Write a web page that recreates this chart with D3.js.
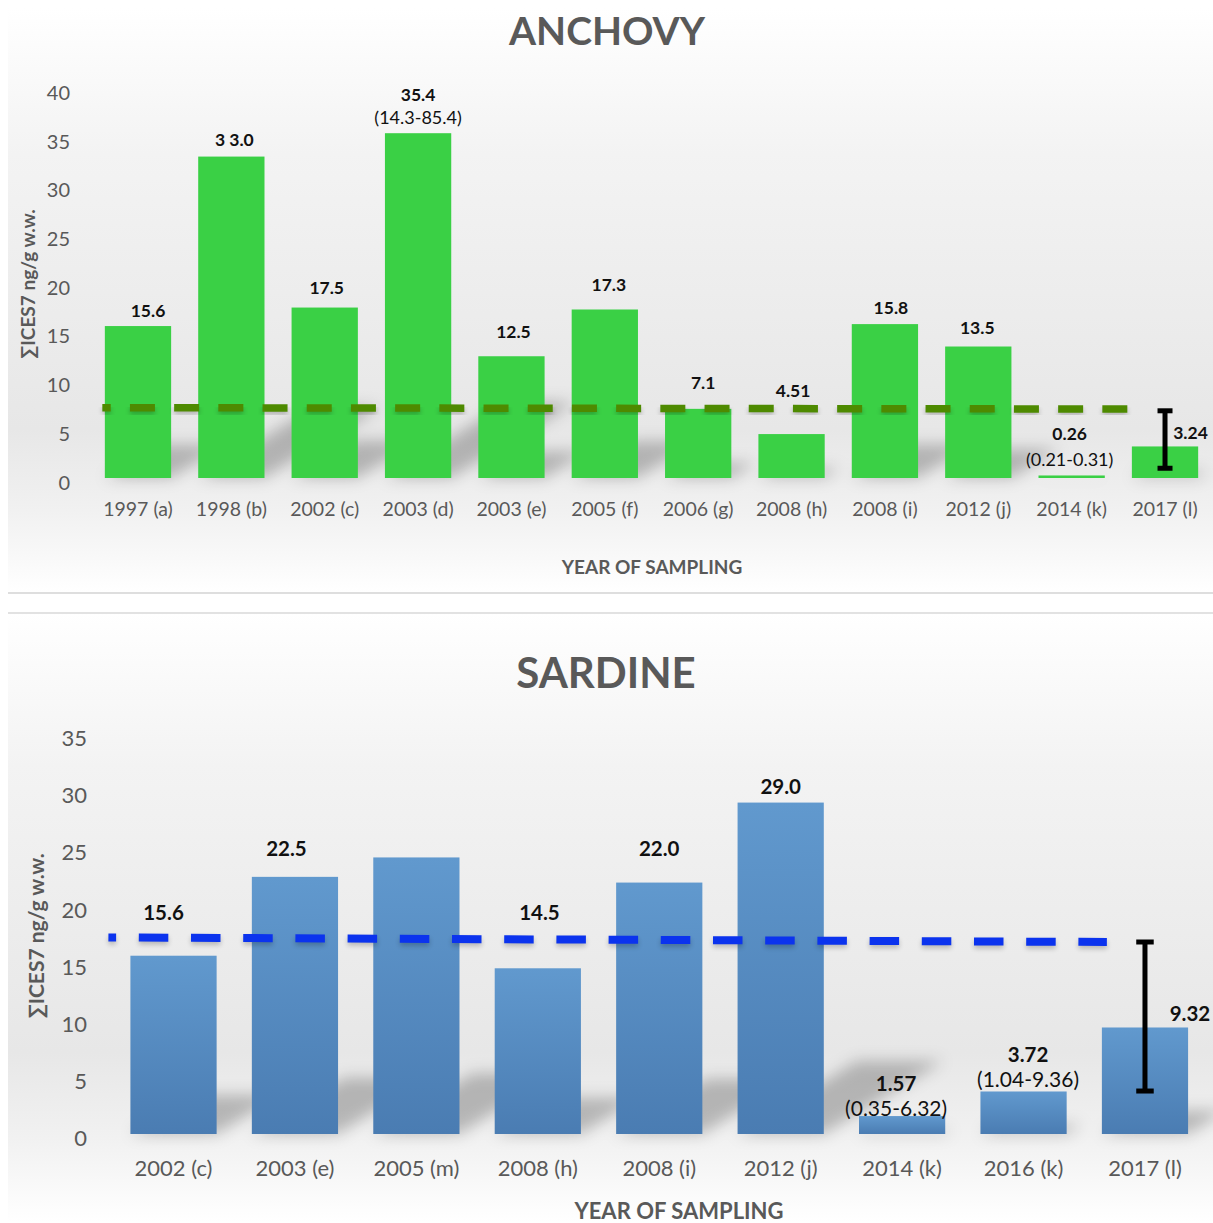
<!DOCTYPE html>
<html><head><meta charset="utf-8">
<script src="https://cdn.jsdelivr.net/npm/d3@7"></script>
<style>
html,body{margin:0;padding:0;background:#fff;}
svg{display:block;font-family:Lato,"Open Sans",sans-serif;}
</style></head><body>
<svg id="chart" width="1213" height="1223"></svg>
<script>
// ---------------- DATA ----------------
const anchovyCategories = ["1997 (a)","1998 (b)","2002 (c)","2003 (d)","2003 (e)","2005 (f)","2006 (g)","2008 (h)","2008 (i)","2012 (j)","2014 (k)","2017 (l)"];
const anchovyValues = [15.6, 33.0, 17.5, 35.4, 12.5, 17.3, 7.1, 4.51, 15.8, 13.5, 0.26, 3.24];
const anchovyLabels = ["15.6","3 3.0","17.5","35.4","12.5","17.3","7.1","4.51","15.8","13.5","0.26","3.24"];
const anchovyRanges = ["","","","(14.3-85.4)","","","","","","","(0.21-0.31)",""];
const anchovyReference = [7.22, 7.08];      // dashed line: value at start, value at end
const anchovyErrorBar = [1.0, 6.9];         // low, high for 2017 (l)
const anchovyYTicks = [0,5,10,15,20,25,30,35,40];

const sardineCategories = ["2002 (c)","2003 (e)","2005 (m)","2008 (h)","2008 (i)","2012 (j)","2014 (k)","2016 (k)","2017 (l)"];
const sardineValues = [15.6, 22.5, 24.2, 14.5, 22.0, 29.0, 1.57, 3.72, 9.32];
const sardineLabels = ["15.6","22.5","","14.5","22.0","29.0","1.57","3.72","9.32"];
const sardineRanges = ["","","","","","","(0.35-6.32)","(1.04-9.36)",""];
const sardineReference = [17.2, 16.8];
const sardineErrorBar = [3.76, 16.8];
const sardineYTicks = [0,5,10,15,20,25,30,35];

// ---------------- LAYOUT (pixels) ----------------
const anchovyLabelLift = [16,17,20.5,39,25,24.5,26,44,17,19.5,41.5,14.4];
const anchovyLabelDx   = [10,3,2,0,2,4,5,1.5,6,-1,-2,25.5];
const anchovyRangeLift = 16.5;
const sardineLabelLift = [44,29,0,56,34.5,16.6,33,37.5,14.5];
const sardineLabelDx   = [-10,-8.5,0,1.6,0,0,-6,4.5,45];
const sardineRangeLift = [0,0,0,0,0,0,9,12.5,0];

const svg = d3.select("#chart");
const defs = svg.append("defs");

function addBg(id){
  const g = defs.append("linearGradient").attr("id",id).attr("x1",0).attr("y1",0).attr("x2",0).attr("y2",1);
  [[0,"#ffffff"],[0.25,"#f3f3f3"],[0.72,"#e7e7e7"],[0.86,"#f1f1f1"],[1,"#ffffff"]]
    .forEach(s=>g.append("stop").attr("offset",s[0]).attr("stop-color",s[1]));
}
addBg("bgGrad");
const bl = defs.append("linearGradient").attr("id","blueBar").attr("x1",0).attr("y1",0).attr("x2",0).attr("y2",1);
bl.append("stop").attr("offset",0).attr("stop-color","#6199ce");
bl.append("stop").attr("offset",1).attr("stop-color","#4a7cb2");
const f = defs.append("filter").attr("id","shadowBlur").attr("x","-50%").attr("y","-50%").attr("width","200%").attr("height","200%");
f.append("feGaussianBlur").attr("stdDeviation",7.5);
const f2 = defs.append("filter").attr("id","lineBlur").attr("x","-10%").attr("y","-200%").attr("width","120%").attr("height","500%");
f2.append("feGaussianBlur").attr("stdDeviation",2.5);

// Panel backgrounds
svg.append("rect").attr("x",8).attr("y",8).attr("width",1205).attr("height",585).attr("fill","url(#bgGrad)");
svg.append("rect").attr("x",8).attr("y",592).attr("width",1205).attr("height",2).attr("fill","#dedede");
svg.append("rect").attr("x",8).attr("y",613).attr("width",1205).attr("height",610).attr("fill","url(#bgGrad)");
svg.append("rect").attr("x",8).attr("y",612).attr("width",1205).attr("height",2).attr("fill","#e2e2e2");

function drawChart(c){
  const g = svg.append("g");
  const x = d3.scaleBand().domain(c.categories).range(c.xRange).paddingInner(c.pad).paddingOuter(c.pad/2);
  const y = d3.scaleLinear().domain(c.yDomain).range(c.yRange);
  const base = y(0);
  const bw = x.bandwidth();

  // title
  g.append("text").attr("x",c.titleX).attr("y",c.titleY).attr("text-anchor","middle")
    .attr("font-size",c.titleSize).attr("font-weight",700).attr("fill","#595959").text(c.title);

  // y axis
  const ya = g.append("g").attr("transform",`translate(${c.yAxisX},0)`)
    .call(d3.axisLeft(y).tickValues(c.yTicks).tickSize(0).tickPadding(0));
  ya.select(".domain").remove();
  ya.selectAll("text").attr("y",4).attr("dy","0.35em").attr("fill","#595959")
    .attr("font-size",c.tickSize).attr("font-family","Lato, 'Open Sans', sans-serif");

  // y title
  g.append("text").attr("transform",`translate(${c.yTitle[0]},${c.yTitle[1]}) rotate(-90)`)
    .attr("text-anchor","middle").attr("dominant-baseline","central")
    .attr("font-size",c.yTitleSize).attr("font-weight",700).attr("fill","#595959").text("∑ICES7 ng/g w.w.");

  // shadows
  g.append("g").attr("filter","url(#shadowBlur)").selectAll("path").data(c.values).join("path")
    .attr("d",(d,i)=>{
      const x0 = x(c.categories[i]), x1 = x0+bw, h = base - y(d);
      const dx = 0.36*h, dy = 0.22*h;
      return `M${x0},${base}L${x1},${base}L${x1+dx},${base-dy}L${x0+dx},${base-dy}Z`;
    }).attr("fill","#000").attr("opacity",0.24);

  // bars
  g.append("g").selectAll("rect").data(c.values).join("rect")
    .attr("x",(d,i)=>x(c.categories[i])).attr("width",bw)
    .attr("y",d=>y(d)).attr("height",d=>Math.max(base-y(d),2))
    .attr("fill",c.fill);

  // x axis
  const xa = g.append("g").attr("transform",`translate(0,${base})`)
    .call(d3.axisBottom(x).tickSize(0).tickPadding(0));
  xa.select(".domain").remove();
  xa.selectAll("text").attr("y",c.xLabelDy).attr("dy","0.35em").attr("fill","#595959")
    .attr("font-size",c.xTickSize).attr("font-family","Lato, 'Open Sans', sans-serif");

  // x title
  g.append("text").attr("x",c.xTitle[0]).attr("y",c.xTitle[1]).attr("text-anchor","middle")
    .attr("dominant-baseline","central").attr("font-size",c.xTitleSize).attr("font-weight",700)
    .attr("fill","#595959").text("YEAR OF SAMPLING");

  // reference dashed line
  const n = c.categories.length;
  const rx0 = x(c.categories[0]) + c.refStartOffset;
  const rx1 = x(c.categories[n-1]) + c.refEndOffset;
  const line = d3.line();
  const pts = [[rx0, y(c.reference[0])],[rx1, y(c.reference[1])]];
  g.append("path").attr("d",line(pts.map(p=>[p[0],p[1]+3]))).attr("stroke","#000").attr("opacity",0.22)
    .attr("stroke-width",c.refWidth).attr("stroke-dasharray",c.dash).attr("stroke-dashoffset",c.dashOffset)
    .attr("filter","url(#lineBlur)").attr("fill","none");
  g.append("path").attr("d",line(pts)).attr("stroke",c.refColor).attr("stroke-width",c.refWidth)
    .attr("stroke-dasharray",c.dash).attr("stroke-dashoffset",c.dashOffset).attr("fill","none");

  // error bar on last category
  const ex = x(c.categories[n-1]) + bw/2;
  const eg = g.append("g").attr("stroke","#000").attr("stroke-width",5);
  eg.append("line").attr("x1",ex).attr("x2",ex).attr("y1",y(c.error[1])).attr("y2",y(c.error[0]));
  [c.error[0],c.error[1]].forEach(v=>{
    eg.append("line").attr("x1",ex-c.capW/2).attr("x2",ex+c.capW/2).attr("y1",y(v)).attr("y2",y(v));
  });

  // value labels
  g.append("g").selectAll("text").data(c.labels).join("text")
    .attr("x",(d,i)=>x(c.categories[i])+bw/2+c.labelDx[i])
    .attr("y",(d,i)=>y(c.values[i]) - c.labelLift[i])
    .attr("text-anchor","middle").attr("dominant-baseline","central")
    .attr("font-size",c.labelSize).attr("font-weight",700).attr("fill","#111").text(d=>d);
  g.append("g").selectAll("text").data(c.ranges).join("text")
    .attr("x",(d,i)=>x(c.categories[i])+bw/2+c.labelDx[i])
    .attr("y",(d,i)=>y(c.values[i]) - c.rangeLift[i])
    .attr("text-anchor","middle").attr("dominant-baseline","central")
    .attr("font-size",c.rangeSize).attr("fill","#111").text(d=>d);
}

drawChart({
  title:"ANCHOVY", titleX:607, titleY:45, titleSize:39,
  categories:anchovyCategories, values:anchovyValues, labels:anchovyLabels, ranges:anchovyRanges,
  reference:anchovyReference, error:anchovyErrorBar, yTicks:anchovyYTicks,
  xRange:[91.3,1211.7], pad:0.29, yDomain:[0,40], yRange:[478,88.4],
  yAxisX:70, tickSize:20, xTickSize:19.5, xLabelDy:31,
  yTitle:[27,284], yTitleSize:19, xTitle:[652,566], xTitleSize:19,
  fill:"#3ad045", refColor:"#4e8a00", refWidth:7.5, dash:"25 19.2", dashOffset:16.6,
  refStartOffset:-2.5, refEndOffset:0, capW:15,
  labelLift:anchovyLabelLift, labelDx:anchovyLabelDx, rangeLift:anchovyLabelLift.map(()=>anchovyRangeLift),
  labelSize:17.5, rangeSize:18
});

drawChart({
  title:"SARDINE", titleX:606, titleY:688, titleSize:42,
  categories:sardineCategories, values:sardineValues, labels:sardineLabels, ranges:sardineRanges,
  reference:sardineReference, error:sardineErrorBar, yTicks:sardineYTicks,
  xRange:[112.8,1205.7], pad:0.29, yDomain:[0,35], yRange:[1134,734],
  yAxisX:87, tickSize:22, xTickSize:22, xLabelDy:34,
  yTitle:[35,936], yTitleSize:21, xTitle:[679,1210], xTitleSize:22,
  fill:"url(#blueBar)", refColor:"#0b33ee", refWidth:8, dash:"29.5 22.7", dashOffset:21.8,
  refStartOffset:-22, refEndOffset:5, capW:17.5,
  labelLift:sardineLabelLift, labelDx:sardineLabelDx, rangeLift:sardineRangeLift,
  labelSize:20.5, rangeSize:21
});
</script>
</body></html>
